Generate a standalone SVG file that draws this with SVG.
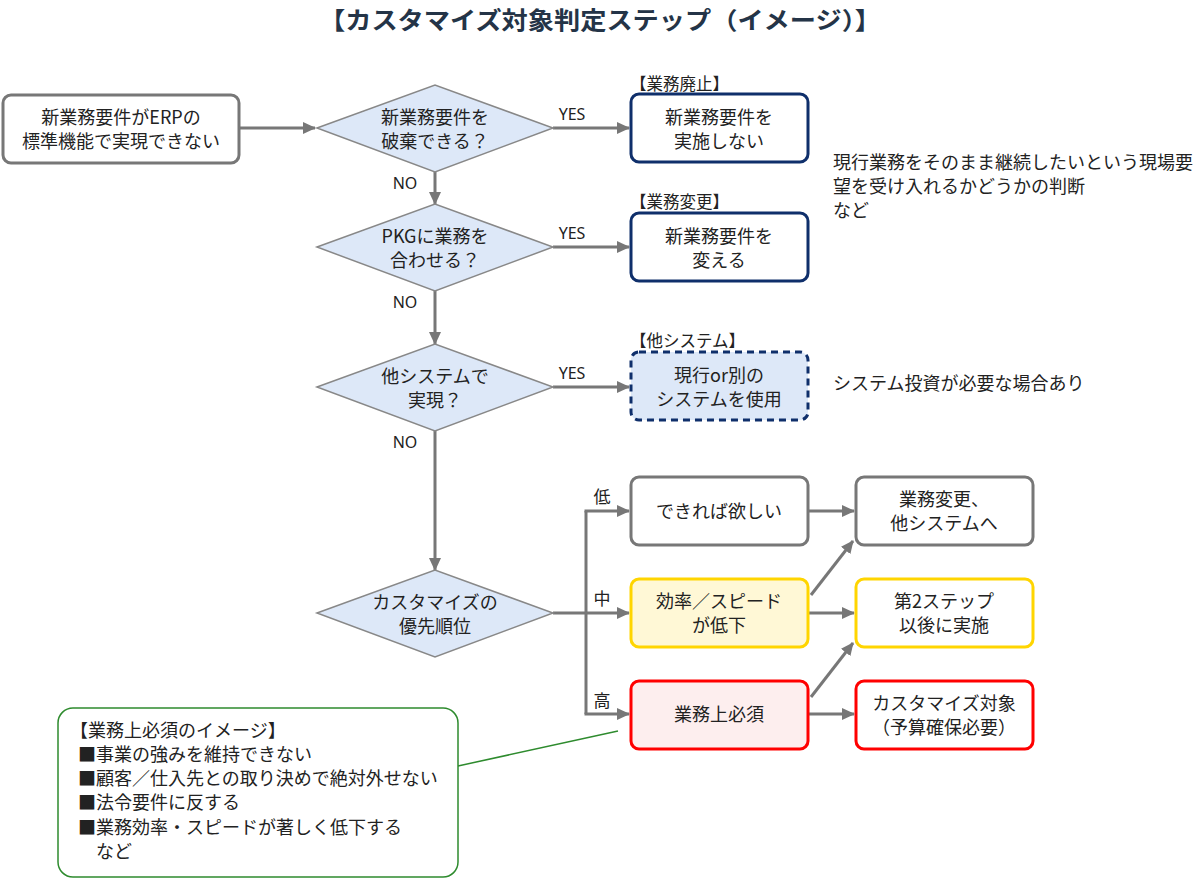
<svg xmlns="http://www.w3.org/2000/svg" width="1200" height="879" viewBox="0 0 1200 879">
<defs>
<marker id="ah" markerUnits="userSpaceOnUse" markerWidth="13" markerHeight="12" refX="12" refY="6" orient="auto">
<path d="M0,0 L13,6 L0,12 z" fill="#777"/>
</marker>
<style>
text{font-family:"Noto Sans CJK JP","Noto Sans",sans-serif;fill:#222;font-size:18px}
.c{text-anchor:middle}
.lat{font-family:"Noto Sans","Liberation Sans",sans-serif;font-size:16px}
.box{fill:#fff;stroke:#777;stroke-width:3}
.navy{fill:#fff;stroke:#0f2f6b;stroke-width:3}
.dash{fill:#dde8f8;stroke:#0f2f6b;stroke-width:3;stroke-dasharray:7 5}
.dia{fill:#dde8f8;stroke:#888;stroke-width:1.5}
.yel{fill:#fff8d6;stroke:#ffd500;stroke-width:3}
.yelw{fill:#fff;stroke:#ffd500;stroke-width:3}
.red{fill:#fdeeee;stroke:#ff0000;stroke-width:3}
.redw{fill:#fff;stroke:#ff0000;stroke-width:3}
.note{fill:#fff;stroke:#2e8b2e;stroke-width:1.5}
.ln{fill:none;stroke:#777;stroke-width:3}
.ar{fill:none;stroke:#777;stroke-width:3;marker-end:url(#ah)}
.hd{font-size:16.5px}
</style>
</defs>
<text x="600" y="29" class="c" textLength="562" lengthAdjust="spacingAndGlyphs" style="font-size:24px;font-weight:bold;fill:#243447">【カスタマイズ対象判定ステップ（イメージ）】</text>

<g id="connectors">
<line class="ar" x1="239" y1="128" x2="315" y2="128"/>
<line class="ar" x1="553" y1="128" x2="629" y2="128"/>
<line class="ar" x1="553" y1="247" x2="629" y2="247"/>
<line class="ar" x1="553" y1="387" x2="629" y2="387"/>
<line class="ar" x1="435" y1="172" x2="435" y2="204"/>
<line class="ar" x1="435" y1="291" x2="435" y2="344"/>
<line class="ar" x1="435" y1="431" x2="435" y2="570"/>
<polyline class="ln" points="553,613 586,613"/>
<polyline class="ln" points="586,511 586,714"/>
<line class="ar" x1="584.5" y1="511" x2="629" y2="511"/>
<line class="ar" x1="586" y1="613" x2="629" y2="613"/>
<line class="ar" x1="584.5" y1="714" x2="629" y2="714"/>
<line class="ar" x1="808" y1="511" x2="854" y2="511"/>
<line class="ar" x1="808" y1="613" x2="854" y2="613"/>
<line class="ar" x1="808" y1="714" x2="854" y2="714"/>
<line class="ar" x1="811" y1="595" x2="853" y2="541"/>
<line class="ar" x1="811" y1="697" x2="853" y2="643"/>
<line x1="458" y1="766" x2="618" y2="731" stroke="#2e8b2e" stroke-width="1.5"/>
<text x="572" y="120" class="c lat">YES</text>
<text x="572" y="239" class="c lat">YES</text>
<text x="572" y="379" class="c lat">YES</text>
<text x="405" y="189" class="c lat">NO</text>
<text x="405" y="308" class="c lat">NO</text>
<text x="405" y="448" class="c lat">NO</text>
<text x="602" y="503" class="c" style="font-size:17px">低</text>
<text x="602" y="605" class="c" style="font-size:17px">中</text>
<text x="602" y="707" class="c" style="font-size:17px">高</text>
</g>

<g id="start">
<rect class="box" x="3" y="95" width="236" height="68" rx="8"/>
<text x="121" y="124" class="c">新業務要件がERPの</text>
<text x="121" y="148" class="c">標準機能で実現できない</text>
</g>

<g id="d1">
<polygon class="dia" points="317,128 435,85 553,128 435,172"/>
<text x="435" y="124" class="c">新業務要件を</text>
<text x="435" y="148" class="c">破棄できる？</text>
</g>
<g id="d2">
<polygon class="dia" points="317,247 435,204 553,247 435,291"/>
<text x="435" y="243" class="c">PKGに業務を</text>
<text x="435" y="267" class="c">合わせる？</text>
</g>
<g id="d3">
<polygon class="dia" points="317,387 435,344 553,387 435,431"/>
<text x="435" y="383" class="c">他システムで</text>
<text x="435" y="407" class="c">実現？</text>
</g>
<g id="d4">
<polygon class="dia" points="317,613 435,570 553,613 435,657"/>
<text x="435" y="609" class="c">カスタマイズの</text>
<text x="435" y="633" class="c">優先順位</text>
</g>

<g id="b1">
<text x="630" y="90" class="hd">【業務廃止】</text>
<rect class="navy" x="631" y="94" width="177" height="68" rx="8"/>
<text x="719" y="124" class="c">新業務要件を</text>
<text x="719" y="148" class="c">実施しない</text>
</g>
<g id="b2">
<text x="630" y="208" class="hd">【業務変更】</text>
<rect class="navy" x="631" y="213" width="177" height="68" rx="8"/>
<text x="719" y="243" class="c">新業務要件を</text>
<text x="719" y="267" class="c">変える</text>
</g>
<g id="b3">
<text x="630" y="347" class="hd">【他システム】</text>
<rect class="dash" x="631" y="352" width="177" height="68" rx="8"/>
<text x="719" y="382" class="c">現行or別の</text>
<text x="719" y="406" class="c">システムを使用</text>
</g>

<g id="comment1">
<text x="833" y="169">現行業務をそのまま継続したいという現場要</text>
<text x="833" y="193">望を受け入れるかどうかの判断</text>
<text x="833" y="217">など</text>
</g>
<g id="comment2">
<text x="833" y="390">システム投資が必要な場合あり</text>
</g>

<g id="p1">
<rect class="box" x="631" y="477" width="177" height="68" rx="8"/>
<text x="719" y="518" class="c">できれば欲しい</text>
</g>
<g id="p2">
<rect class="yel" x="631" y="579" width="177" height="68" rx="8"/>
<text x="719" y="608" class="c">効率／スピード</text>
<text x="719" y="632" class="c">が低下</text>
</g>
<g id="p3">
<rect class="red" x="631" y="681" width="177" height="68" rx="8"/>
<text x="719" y="721" class="c">業務上必須</text>
</g>

<g id="r1">
<rect class="box" x="856" y="477" width="177" height="68" rx="8"/>
<text x="944" y="506" class="c">業務変更、</text>
<text x="944" y="530" class="c">他システムへ</text>
</g>
<g id="r2">
<rect class="yelw" x="856" y="579" width="177" height="68" rx="8"/>
<text x="944" y="608" class="c">第2ステップ</text>
<text x="944" y="632" class="c">以後に実施</text>
</g>
<g id="r3">
<rect class="redw" x="856" y="681" width="177" height="68" rx="8"/>
<text x="944" y="710" class="c">カスタマイズ対象</text>
<text x="944" y="734" class="c">（予算確保必要）</text>
</g>

<g id="note">
<rect class="note" x="58" y="708" width="400" height="169" rx="15"/>
<text x="70" y="737">【業務上必須のイメージ】</text>
<text x="78" y="761">■事業の強みを維持できない</text>
<text x="78" y="785">■顧客／仕入先との取り決めで絶対外せない</text>
<text x="78" y="809">■法令要件に反する</text>
<text x="78" y="834">■業務効率・スピードが著しく低下する</text>
<text x="96" y="858">など</text>
</g>
</svg>
